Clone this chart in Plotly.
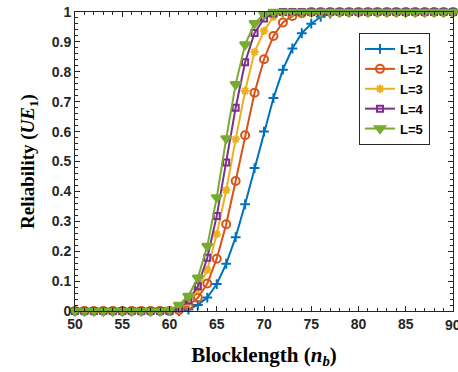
import plotly.graph_objects as go

x = list(range(50, 91))

def pad(start, vals):
    # values start at x=start; before that 0, after that 1
    out = []
    for xi in x:
        if xi < start:
            out.append(0.0)
        elif xi - start < len(vals):
            out.append(vals[xi - start])
        else:
            out.append(1.0)
    return out

L1_vals = [0.005, 0.02, 0.045, 0.09, 0.158, 0.247, 0.357, 0.478, 0.60, 0.712,
           0.807, 0.878, 0.929, 0.961, 0.984, 0.995]          # from x=62
L2_vals = [0.003, 0.018, 0.044, 0.092, 0.175, 0.29, 0.435, 0.588, 0.73, 0.842,
           0.92, 0.965, 0.987, 0.996]                          # from x=61
L3_vals = [0.005, 0.03, 0.072, 0.138, 0.257, 0.404, 0.574, 0.736, 0.866, 0.937,
           0.984, 0.997]                                       # from x=61
L4_vals = [0.008, 0.035, 0.083, 0.178, 0.318, 0.497, 0.68, 0.832, 0.93, 0.978,
           0.995]                                              # from x=61
L5_vals = [0.003, 0.02, 0.05, 0.111, 0.217, 0.38, 0.577, 0.758, 0.891, 0.962,
           0.992]                                              # from x=60

x_ticks = [50, 55, 60, 65, 70, 75, 80, 85, 90]
x_ticklabels = ["50", "55", "60", "65", "70", "75", "80", "85", "90"]
y_ticks = [0, 0.1, 0.2, 0.3, 0.4, 0.5, 0.6, 0.7, 0.8, 0.9, 1]
y_ticklabels = ["0", "0.1", "0.2", "0.3", "0.4", "0.5", "0.6", "0.7", "0.8", "0.9", "1"]

series = [
    ("L=1", pad(62, L1_vals), "#0072BD", "cross-thin-open", 7),
    ("L=2", pad(61, L2_vals), "#D95319", "circle-open", 8),
    ("L=3", pad(61, L3_vals), "#EDB120", "asterisk-open", 7),
    ("L=4", pad(61, L4_vals), "#7E2F8E", "square-open", 6),
    ("L=5", pad(60, L5_vals), "#77AC30", "triangle-down", 9),
]

fig = go.Figure()
for name, y, col, sym, sz in series:
    fig.add_trace(go.Scatter(
        x=x, y=y, name=name, mode="lines+markers",
        line=dict(color=col, width=2),
        marker=dict(symbol=sym, size=sz, color=col, line=dict(color=col, width=2)),
        cliponaxis=False,
    ))

tickfont = dict(family="Liberation Sans, Arial", size=14, color="#262626", weight="bold")

# last x tick label (at the very right edge) drawn as annotation so it is not dropped
fig.add_annotation(x=x_ticks[-1], y=0, xref="x", yref="paper", yshift=-4,
                   text=x_ticklabels[-1], showarrow=False, yanchor="top",
                   xanchor="center", font=tickfont)

fig.update_layout(
    width=458, height=372,
    margin=dict(l=75, r=5, t=12, b=61),
    plot_bgcolor="white", paper_bgcolor="white",
    xaxis=dict(
        range=[50, 90], tickmode="array", tickvals=x_ticks[:-1] + [90],
        ticktext=x_ticklabels[:-1] + [""],
        ticks="inside", ticklen=5, tickcolor="#262626", tickwidth=1,
        showline=True, linecolor="#262626", linewidth=1, mirror="ticks",
        showgrid=False, zeroline=False, tickfont=tickfont,
        minor=dict(dtick=1, ticks="inside", ticklen=3, tickcolor="#262626", showgrid=False),
        title=dict(text="Blocklength (<i>n</i><sub><i>b</i></sub>)",
                   font=dict(family="Liberation Serif, Times New Roman", size=21, color="#000000", weight="bold"),
                   standoff=16),
    ),
    yaxis=dict(
        range=[0, 1], tickmode="array", tickvals=y_ticks, ticktext=y_ticklabels,
        ticks="inside", ticklen=5, tickcolor="#262626", tickwidth=1,
        showline=True, linecolor="#262626", linewidth=1, mirror="ticks",
        showgrid=False, zeroline=False, tickfont=tickfont,
        minor=dict(dtick=0.02, ticks="inside", ticklen=3, tickcolor="#262626", showgrid=False),
        title=dict(text="Reliability (<i>UE</i><sub>1</sub>)",
                   font=dict(family="Liberation Serif, Times New Roman", size=19, color="#000000", weight="bold"),
                   standoff=12),
    ),
    showlegend=True,
)
plot_w = 458 - 75 - 5
plot_h = 372 - 12 - 61
fig.update_layout(legend=dict(
    x=(359 - 75) / plot_w, y=(311 - 33) / plot_h, xanchor="left", yanchor="top",
    font=dict(family="Liberation Sans, Arial", size=13, color="#000000", weight="bold"),
    bgcolor="white", bordercolor="#262626", borderwidth=1, tracegroupgap=0,
))

fig.write_html("out.html")
